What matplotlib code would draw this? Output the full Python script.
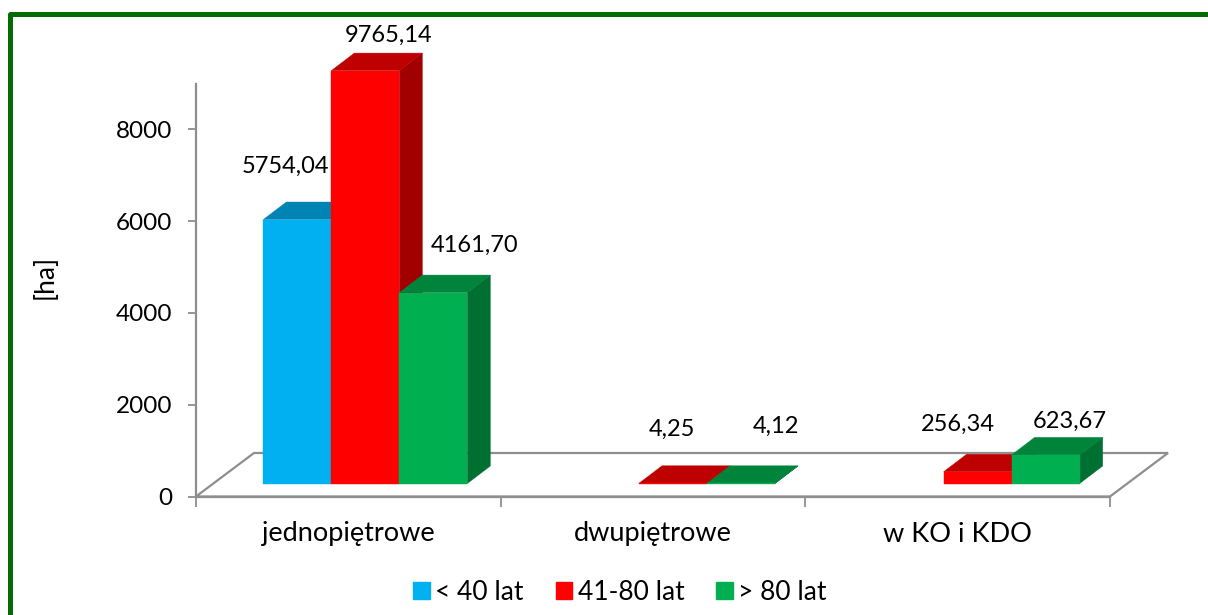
import matplotlib
matplotlib.use('Agg')
import matplotlib.pyplot as plt
from matplotlib.patches import Patch, Polygon, Rectangle
import numpy as np

plt.rcParams['font.family'] = ['Lato', 'DejaVu Sans']

categories = ['jednopiętrowe', 'dwupiętrowe', 'w KO i KDO']
series_names = ['< 40 lat', '41-80 lat', '> 80 lat']
young = [5754.04, np.nan, np.nan]
middle = [9765.14, 4.25, 256.34]
old = [4161.70, 4.12, 623.67]
y_ticks = [0, 2000, 4000, 6000, 8000]
y_max = 9000

colors = ['#00B0F0', '#FF0000', '#00B050']
gray = '#8E8E8E'

W, H = 1208, 615
fig = plt.figure(figsize=(W / 100, H / 100), dpi=100)

# green frame, runs off the right and the bottom of the picture
fig.add_artist(Rectangle((10 / W, -0.1), 1.1, 1.1 - 13.5 / H, transform=fig.transFigure,
                         fill=False, edgecolor='#046A04', linewidth=3.6, joinstyle='round'))

ax = fig.add_axes([196 / W, (H - 496.5) / H, 914 / W, 412.9 / H])
ax.set_xlim(-0.5, 2.5)
ax.set_ylim(0, y_max)

# pixel sizes converted to data units
px_x = 3.0 / 914
px_y = y_max / 412.9

bar_w = 68 * px_x
front_dy = 13 * px_y
depth_dx = 23 * px_x
depth_dy = 17.5 * px_y


def shade(color, k):
    rgb = np.array(matplotlib.colors.to_rgb(color))
    return tuple(rgb * k)


def add_poly(points, color, z):
    ax.add_patch(Polygon(points, closed=True, facecolor=color, edgecolor=color,
                         linewidth=0.3, clip_on=False, zorder=z))


def draw_bar(x, value, color, z):
    if np.isnan(value):
        return
    l = x - bar_w / 2
    r = x + bar_w / 2
    b = front_dy
    t = front_dy + min(value, y_max)
    # side, top, then front
    add_poly([(r, b), (r + depth_dx, b + depth_dy), (r + depth_dx, t + depth_dy), (r, t)], shade(color, 0.63), z)
    add_poly([(l, t), (l + depth_dx, t + depth_dy), (r + depth_dx, t + depth_dy), (r, t)], shade(color, 0.75), z)
    add_poly([(l, b), (r, b), (r, t), (l, t)], color, z)


# floor
floor_dx = 58 * px_x
floor_dy = 43.5 * px_y
ax.add_patch(Polygon([(-0.5, 0), (2.5, 0), (2.5 + floor_dx, floor_dy), (-0.5 + floor_dx, floor_dy)],
                     closed=True, facecolor='white', edgecolor=gray, linewidth=1.6,
                     clip_on=False, zorder=1))

group_x = [17 * px_x, 1 + 20 * px_x, 2 + 20 * px_x]
all_series = [young, middle, old]
z = 2
for i in range(len(categories)):
    for j, values in enumerate(all_series):
        draw_bar(group_x[i] + (j - 1) * bar_w, values[i], colors[j], z)
        z += 1

# data labels, moved by hand in the original chart
label_texts = [['5754,04', '', ''], ['9765,14', '4,25', '256,34'], ['4161,70', '4,12', '623,67']]
label_shift = [[(-12, 53), None, None], [(23, 35), (-1, 54), (-20, 47)], [(41, 47), (35, 57), (24, 34)]]
for j, values in enumerate(all_series):
    for i, v in enumerate(values):
        if np.isnan(v):
            continue
        x = group_x[i] + (j - 1) * bar_w
        ax.annotate(label_texts[j][i], (x, front_dy + min(v, y_max)), xytext=label_shift[j][i],
                    textcoords='offset pixels', ha='center', va='center', fontsize=17,
                    color='black', annotation_clip=False, zorder=50)

for s in ['top', 'right']:
    ax.spines[s].set_visible(False)
for s in ['left', 'bottom']:
    ax.spines[s].set_color(gray)
    ax.spines[s].set_linewidth(1.6)
    ax.spines[s].set_zorder(1.5)
ax.patch.set_alpha(0)

ax.set_yticks(y_ticks)
ax.set_yticklabels([str(v) for v in y_ticks])
ax.tick_params(axis='y', length=6, width=1.3, color=gray, labelsize=17.5, pad=11)

ax.set_xticks([-0.5, 0.5, 1.5, 2.5])
ax.set_xticklabels([])
ax.set_xticks([0, 1, 2], minor=True)
ax.set_xticklabels(categories, minor=True)
ax.tick_params(axis='x', which='major', length=7, width=1.3, color=gray)
ax.tick_params(axis='x', which='minor', length=0, labelsize=19.5, pad=18)

fig.text(45 / W, 1 - 277 / H, '[ha]', rotation=90, ha='center', va='center', fontsize=19)

handles = [Patch(facecolor=c, edgecolor=c) for c in colors]
fig.legend(handles, series_names, loc='center', bbox_to_anchor=(620 / W, 1 - 592 / H), ncol=3,
           frameon=False, fontsize=19, handlelength=0.64, handleheight=0.64,
           handletextpad=0.2, columnspacing=1.2)

fig.savefig('out.png', dpi=100)
